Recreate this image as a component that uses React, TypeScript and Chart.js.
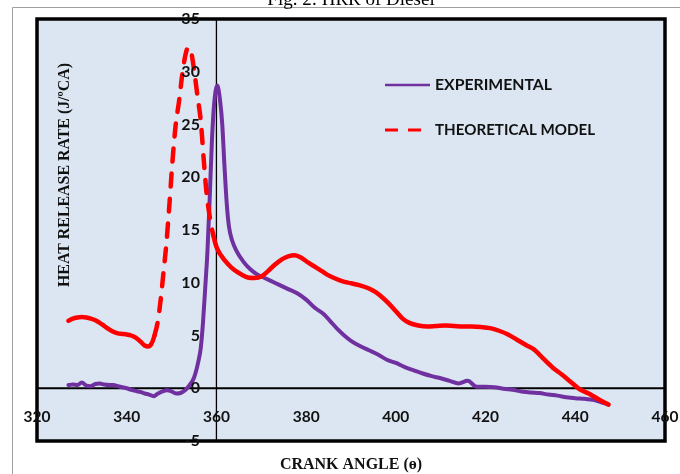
import React, { useEffect, useRef } from "react";
import { Chart, registerables } from "chart.js";

Chart.register(...registerables);

// ---- Data ----
const chartTitle = "Fig. 2: HRR of Diesel";
const xTitle = "CRANK ANGLE (ө)";
const yTitle = "HEAT RELEASE RATE (J/ºCA)";
const seriesNames = ["EXPERIMENTAL", "THEORETICAL MODEL"];

const xTicks = [320, 340, 360, 380, 400, 420, 440, 460];
const yTicks = [-5, 0, 5, 10, 15, 20, 25, 30, 35];

const expAngle = [
  327, 328, 329, 330, 331, 332, 333, 334, 335, 336, 337, 338, 339, 340, 341, 342, 343, 344, 345, 346,
  347, 348, 349, 350, 351, 352, 353, 354, 355, 356, 356.5, 357, 357.5, 358, 358.5, 359, 359.5, 360.2,
  360.8, 361.3, 361.8, 362.3, 362.8, 363.5, 364.5, 366, 367.5, 369, 370.5, 372, 374, 376, 378, 380,
  382, 384, 385.5, 387, 388.5, 390, 392, 394, 396, 398, 400, 402, 404, 406, 408, 410, 412, 414, 416,
  418, 420, 422, 424, 426, 428, 430, 432, 434, 436, 438, 440, 442, 444, 446, 447.4,
];
const expHRR = [
  0.3, 0.35, 0.3, 0.55, 0.25, 0.2, 0.4, 0.45, 0.35, 0.3, 0.3, 0.2, 0.1, 0.0, -0.15, -0.25, -0.35, -0.5, -0.6, -0.75,
  -0.5, -0.3, -0.2, -0.3, -0.5, -0.45, -0.2, 0.3, 1.0, 2.6, 3.8, 6.2, 9.5, 13, 18, 23.5, 27, 28.7,
  27.3, 25, 21, 17.5, 15.3, 14, 13, 12, 11.3, 10.8, 10.5, 10.2, 9.8, 9.4, 9.0, 8.4,
  7.6, 7.0, 6.3, 5.6, 5.0, 4.5, 4.0, 3.6, 3.2, 2.7, 2.4, 2.0, 1.7, 1.4, 1.15, 0.95, 0.7, 0.45, 0.7,
  0.15, 0.15, 0.1, -0.05, -0.15, -0.3, -0.4, -0.45, -0.6, -0.7, -0.85, -0.95, -1.0, -1.1, -1.35, -1.55,
];

const thAngle = [
  327, 328, 329, 330, 331, 332, 333, 334, 335, 336, 337, 338, 339, 340, 341, 342, 343, 344, 344.8, 345.5,
  346.2, 347, 347.6, 348.2, 348.8, 349.5, 350.2, 350.9, 351.7, 352.4, 353.1, 353.7, 354.4, 355.2, 355.8,
  356.5, 357.2, 357.8, 358.5, 359.3, 360, 361, 362.5, 364, 365.5, 367, 368.5, 370, 371.5, 373, 374.5,
  376, 377.5, 379, 380.5, 382, 383.5, 385, 386.5, 388, 390, 392, 394, 395.5, 397, 398.5, 400, 401.5,
  403, 405, 407, 409, 411, 413, 415, 417, 419, 421, 423, 425, 427, 429, 431, 433, 435, 437, 439, 441,
  443, 445, 447.4,
];
const thHRR = [
  6.4, 6.6, 6.7, 6.75, 6.7, 6.6, 6.45, 6.2, 5.9, 5.6, 5.35, 5.2, 5.15, 5.1, 5.0, 4.8, 4.45, 4.05, 3.95, 4.2,
  5.0, 6.5, 8.5, 11, 13.5, 17.3, 21.5, 24.9, 27.3, 29.8, 31.6, 32.3, 31.8, 29.6, 27.6,
  25.4, 21.5, 18.5, 16.3, 14.5, 13.4, 12.6, 11.8, 11.2, 10.8, 10.5, 10.45, 10.6, 11.1, 11.7, 12.2,
  12.5, 12.6, 12.35, 11.9, 11.5, 11.1, 10.7, 10.4, 10.15, 9.95, 9.75, 9.45, 9.1, 8.6, 8.0, 7.3, 6.6,
  6.2, 5.95, 5.85, 5.9, 5.95, 5.9, 5.85, 5.85, 5.8, 5.7, 5.45, 5.1, 4.6, 4.1, 3.6, 2.75, 1.95, 1.3, 0.6, -0.1,
  -0.5, -1.0, -1.55,
];

// Theoretical curve is drawn dashed over its steep combustion peak
const dashFrom = 346.2;
const dashTo = 359.3;

const PURPLE = "#7030a0";
const RED = "#ff0000";
const TICK_FONT = "bold 16px Lato";
const TITLE_FONT = "bold 16px 'Liberation Serif'";

function fitText(ctx: CanvasRenderingContext2D, text: string, x: number, y: number, maxW?: number) {
  const w = ctx.measureText(text).width;
  if (maxW && w > maxW) ctx.fillText(text, x, y, maxW);
  else ctx.fillText(text, x, y);
}

const decorPlugin = {
  id: "decor",
  beforeDraw(chart: any) {
    const { ctx, chartArea: a } = chart;
    ctx.save();
    ctx.fillStyle = "#ffffff";
    ctx.fillRect(0, 0, chart.width, chart.height);
    // outer chart frame
    ctx.strokeStyle = "#a0a0a0";
    ctx.lineWidth = 1;
    ctx.beginPath();
    ctx.moveTo(12.5, chart.height + 2);
    ctx.lineTo(12.5, 7.5);
    ctx.lineTo(chart.width + 2, 7.5);
    ctx.stroke();
    // page caption (partially cut at top)
    ctx.fillStyle = "#000";
    ctx.font = "19px 'Liberation Serif'";
    ctx.textAlign = "center";
    ctx.textBaseline = "alphabetic";
    fitText(ctx, chartTitle, 351, 5, 186);
    // plot background
    ctx.fillStyle = "#dce6f2";
    ctx.fillRect(a.left, a.top, a.right - a.left, a.bottom - a.top);
    ctx.restore();
  },
  beforeDatasetsDraw(chart: any) {
    const { ctx, chartArea: a, scales } = chart;
    const x0 = scales.x.getPixelForValue(360);
    const y0 = scales.y.getPixelForValue(0);
    ctx.save();
    ctx.strokeStyle = "#000";
    ctx.lineWidth = 1.3;
    ctx.beginPath();
    ctx.moveTo(x0, a.top);
    ctx.lineTo(x0, a.bottom);
    ctx.stroke();
    ctx.lineWidth = 1.8;
    ctx.beginPath();
    ctx.moveTo(a.left, y0);
    ctx.lineTo(a.right, y0);
    ctx.stroke();
    ctx.restore();
  },
  afterDatasetsDraw(chart: any) {
    const { ctx, chartArea: a, scales } = chart;
    ctx.save();
    // plot frame
    ctx.strokeStyle = "#000";
    ctx.lineWidth = 3.5;
    ctx.strokeRect(a.left, a.top, a.right - a.left, a.bottom - a.top);

    const xAxisPix = scales.x.getPixelForValue(360);
    const yAxisPix = scales.y.getPixelForValue(0);

    // tick labels
    ctx.fillStyle = "#111";
    ctx.font = TICK_FONT;
    ctx.textBaseline = "middle";
    ctx.textAlign = "right";
    for (const v of yTicks) {
      fitText(ctx, String(v), xAxisPix - 16.5, scales.y.getPixelForValue(v));
    }
    ctx.textAlign = "center";
    for (const v of xTicks) {
      fitText(ctx, String(v), scales.x.getPixelForValue(v), yAxisPix + 29, 27);
    }

    // axis titles
    ctx.font = TITLE_FONT;
    ctx.fillStyle = "#111";
    ctx.textAlign = "center";
    ctx.textBaseline = "middle";
    fitText(ctx, xTitle, 351, 465, 146);
    ctx.save();
    ctx.translate(65, 175);
    ctx.rotate(-Math.PI / 2);
    fitText(ctx, yTitle, 0, 0, 224);
    ctx.restore();

    // legend
    const lx0 = 385, lx1 = 430, tx = 435;
    const rows = [85, 130];
    ctx.lineCap = "butt";
    ctx.strokeStyle = PURPLE;
    ctx.lineWidth = 2.5;
    ctx.beginPath();
    ctx.moveTo(lx0, rows[0]);
    ctx.lineTo(lx1, rows[0]);
    ctx.stroke();
    ctx.strokeStyle = RED;
    ctx.lineWidth = 3;
    ctx.setLineDash([13, 10]);
    ctx.beginPath();
    ctx.moveTo(lx0, rows[1]);
    ctx.lineTo(lx1, rows[1]);
    ctx.stroke();
    ctx.setLineDash([]);
    ctx.fillStyle = "#111";
    ctx.font = TICK_FONT;
    ctx.textAlign = "left";
    ctx.textBaseline = "middle";
    fitText(ctx, seriesNames[0], tx, rows[0], 117);
    fitText(ctx, seriesNames[1], tx, rows[1], 160);
    ctx.restore();
  },
};

export default function App() {
  const ref = useRef<HTMLCanvasElement | null>(null);
  useEffect(() => {
    if (!ref.current) return;
    const chart = new Chart(ref.current, {
      type: "line",
      data: {
        datasets: [
          {
            label: seriesNames[0],
            data: expAngle.map((x, i) => ({ x, y: expHRR[i] })),
            borderColor: PURPLE,
            backgroundColor: PURPLE,
            borderWidth: 4,
            pointRadius: 0,
            cubicInterpolationMode: "monotone",
            borderJoinStyle: "round",
            borderCapStyle: "round",
            fill: false,
            order: 1,
          },
          {
            label: seriesNames[1],
            data: thAngle.map((x, i) => ({ x, y: thHRR[i] })),
            borderColor: RED,
            backgroundColor: RED,
            borderWidth: 4.5,
            pointRadius: 0,
            cubicInterpolationMode: "monotone",
            borderJoinStyle: "round",
            borderCapStyle: "round",
            borderDash: [],
            fill: false,
            order: 0,
            segment: {
              borderDash: (c: any) =>
                thAngle[c.p0DataIndex] >= dashFrom && thAngle[c.p1DataIndex] <= dashTo ? [13, 12] : undefined,
            },
          },
        ],
      },
      options: {
        responsive: false,
        animation: false,
        events: [],
        layout: { padding: { left: 37, top: 19, right: 15, bottom: 33 } },
        plugins: { legend: { display: false }, title: { display: false }, tooltip: { enabled: false } },
        scales: {
          x: { type: "linear", min: 320, max: 460, display: false },
          y: { type: "linear", min: -5, max: 35, display: false },
        },
      },
      plugins: [decorPlugin],
    } as any);
    const fonts: any = (document as any).fonts;
    if (fonts && fonts.ready) fonts.ready.then(() => chart.update("none"));
    return () => chart.destroy();
  }, []);
  return (
    <div style={{ position: "fixed", left: 0, top: 0, width: 680, height: 474, background: "#fff" }}>
      <canvas ref={ref} width={680} height={474} style={{ display: "block" }} />
    </div>
  );
}
